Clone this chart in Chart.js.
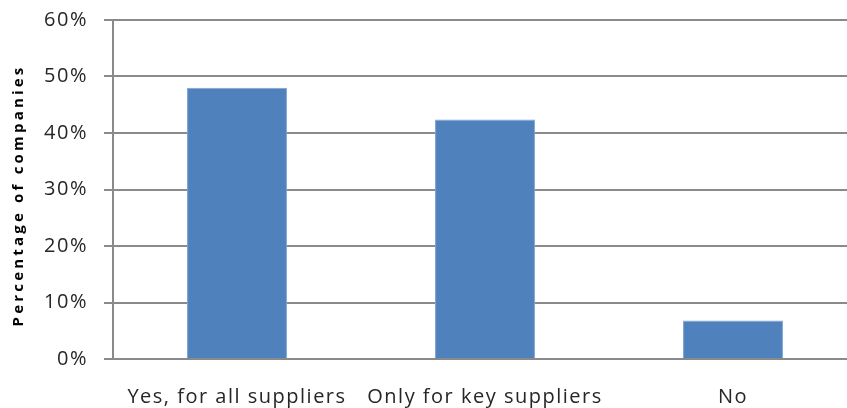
<!DOCTYPE html>
<html>
<head>
<meta charset="utf-8">
<script src="https://cdn.jsdelivr.net/npm/chart.js@4/dist/chart.umd.min.js"></script>
<style>
  html, body { margin: 0; padding: 0; background: #fff; overflow: hidden; }
  #wrap { width: 847px; height: 408px; overflow: hidden; position: relative; }
  #box { width: 857px; height: 408px; position: absolute; left: 0; top: 0; }
</style>
</head>
<body>
<div id="wrap"><div id="box"><canvas id="chart"></canvas></div></div>
<script>
// Supplier requirement responses
const categories = ['Yes, for all suppliers', 'Only for key suppliers', 'No'];
const shareOfCompanies = [48, 42.4, 6.8];
const yTicks = [0, 10, 20, 30, 40, 50, 60];

const textColor = '#262626';
const gridColor = '#8a8a8a';
const fontFamily = '"Open Sans", "DejaVu Sans", sans-serif';

// Wider letter spacing for axis text, applied around the scale's own draw calls
const letterSpacingPlugin = {
  id: 'letterSpacing',
  afterLayout(chart) {
    Object.values(chart.scales).forEach(scale => {
      if (scale._spacingWrapped) return;
      scale._spacingWrapped = true;
      const wrap = (name, value, dy) => {
        const orig = scale[name];
        scale[name] = function (...args) {
          const ctx = this.ctx;
          ctx.save();
          ctx.letterSpacing = value;
          if (dy) ctx.translate(0, dy);
          orig.apply(this, args);
          ctx.restore();
        };
      };
      wrap('drawLabels', '1.5px', 0);
      if (scale.axis === 'y') wrap('drawTitle', '3.2px', 6);
    });
  }
};

new Chart(document.getElementById('chart'), {
  type: 'bar',
  data: {
    labels: categories,
    datasets: [{
      data: shareOfCompanies,
      backgroundColor: '#4F81BD',
      borderColor: '#7FA3D3',
      borderWidth: 1,
      barPercentage: 0.403,
      categoryPercentage: 1
    }]
  },
  plugins: [letterSpacingPlugin],
  options: {
    responsive: true,
    maintainAspectRatio: false,
    animation: false,
    layout: { padding: { top: 20, right: 0, left: 0, bottom: 0 } },
    plugins: { legend: { display: false }, tooltip: { enabled: false } },
    scales: {
      x: {
        grid: { display: true, drawOnChartArea: false, drawTicks: false, color: gridColor },
        border: { display: true, color: gridColor, width: 2 },
        ticks: { color: textColor, font: { family: fontFamily, size: 20 }, padding: 26, maxRotation: 0 },
        afterFit: s => { s.height = 49; s.paddingLeft = 0; s.paddingRight = 0; }
      },
      y: {
        min: 0, max: 60,
        afterBuildTicks: s => { s.ticks = yTicks.map(v => ({ value: v })); },
        grid: { color: gridColor, lineWidth: 2, tickLength: 9 },
        border: { display: true, color: gridColor, width: 2 },
        ticks: {
          color: textColor,
          font: { family: fontFamily, size: 20 },
          padding: 16,
          callback: v => v + '%'
        },
        title: {
          display: true,
          text: 'Percentage of companies',
          color: '#000000',
          font: { family: fontFamily, size: 15, weight: 'bold' },
          padding: { top: 10, bottom: 0 }
        },
        afterFit: s => { s.width = 113; s.paddingTop = 0; s.paddingBottom = 0; }
      }
    }
  }
});
</script>
</body>
</html>
